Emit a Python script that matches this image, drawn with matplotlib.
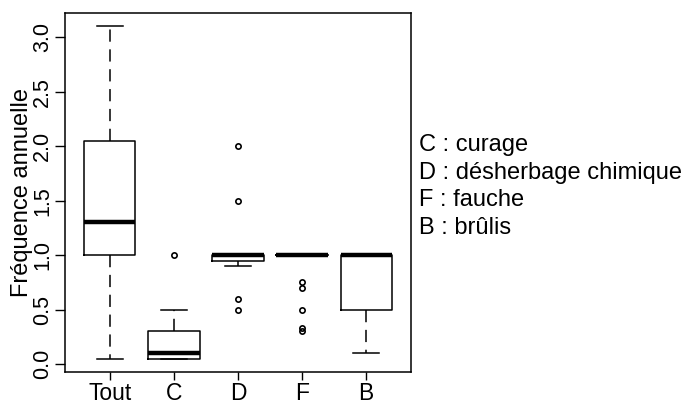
import matplotlib
matplotlib.use("Agg")
import matplotlib.pyplot as plt

plt.rcParams['font.family'] = ['Liberation Sans', 'DejaVu Sans']

# Box plot summaries per treatment
categories = ["Tout", "C", "D", "F", "B"]
whisker_low = [0.05, 0.05, 0.90, 1.00, 0.10]
q1 = [1.00, 0.05, 0.95, 1.00, 0.50]
medians = [1.30, 0.10, 1.00, 1.00, 1.00]
q3 = [2.05, 0.30, 1.00, 1.00, 1.00]
whisker_high = [3.10, 0.50, 1.00, 1.00, 1.00]
outliers = [
    [],
    [1.0],
    [2.0, 1.5, 0.6, 0.5],
    [0.75, 0.70, 0.50, 0.33, 0.30],
    [],
]
legend_lines = ["C : curage", "D : désherbage chimique", "F : fauche", "B : brûlis"]

stats = []
for i, name in enumerate(categories):
    stats.append(dict(label=name, whislo=whisker_low[i], q1=q1[i], med=medians[i],
                      q3=q3[i], whishi=whisker_high[i], fliers=outliers[i]))

W, H = 685, 404
fig = plt.figure(figsize=(W / 100, H / 100), dpi=100)
ax = fig.add_axes([65 / W, (H - 372) / H, (411 - 65) / W, (372 - 13) / H])

ax.bxp(stats, positions=range(1, len(categories) + 1), widths=0.8,
       capwidths=0.4, showfliers=True, patch_artist=False,
       boxprops=dict(color="black", linewidth=1.1),
       medianprops=dict(color="black", linewidth=3.2, solid_capstyle="butt"),
       whiskerprops=dict(color="black", linewidth=1.1, linestyle=(0, (8, 5))),
       capprops=dict(color="black", linewidth=1.1),
       flierprops=dict(marker="o", markersize=3.8, markerfacecolor="none",
                       markeredgecolor="black", markeredgewidth=1.2, linestyle="none"))

ax.set_xlim(0.3, 5.7)
ax.set_ylim(-0.072, 3.222)
ax.set_yticks([0.0, 0.5, 1.0, 1.5, 2.0, 2.5, 3.0])
ax.set_yticklabels(["0.0", "0.5", "1.0", "1.5", "2.0", "2.5", "3.0"],
                   rotation=90, va="center", fontsize=15.5)
ax.set_xticks(range(1, len(categories) + 1))
ax.set_xticklabels(categories, fontsize=16.5)
ax.tick_params(axis="y", length=7, width=1.0, pad=1.5)
ax.tick_params(axis="x", length=6, width=1.0, pad=1.0)
ax.set_ylabel("Fréquence annuelle", fontsize=17)
ax.yaxis.set_label_coords(-0.092, 0.5)
for sp in ax.spines.values():
    sp.set_linewidth(1.1)

for k, line in enumerate(legend_lines):
    fig.text(419 / W, 1 - (151 + 27.7 * k) / H, line, fontsize=17,
             ha="left", va="baseline")

fig.savefig("out.png", dpi=100)
